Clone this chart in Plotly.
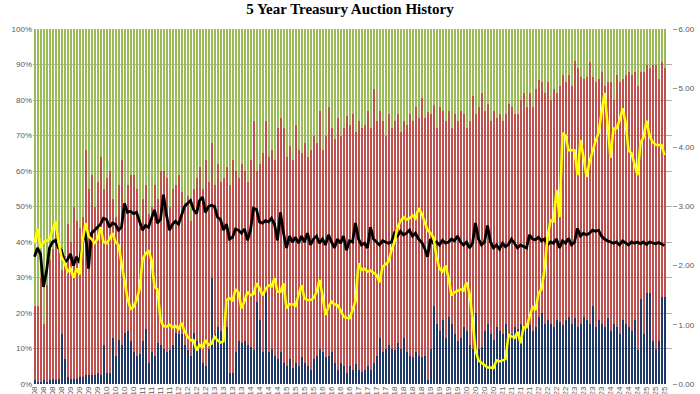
import plotly.graph_objects as go

# ---- data (monthly 5Y auctions, Jan-2008 .. Jul-2025) ----
yield_pct = [
    2.38, 2.62, 2.30, 2.40, 2.42, 2.45, 2.60, 2.75, 2.40, 2.15,
    2.05, 1.90, 1.95, 1.80, 1.95, 1.85, 2.40, 2.72, 2.50, 2.45,
    2.38, 2.45, 2.65, 2.40, 2.38, 2.45, 2.55, 2.40, 2.35, 2.05,
    1.75, 1.45, 1.27, 1.30, 1.42, 1.60, 2.10, 2.20, 2.26, 2.10,
    1.64, 1.60, 1.08, 0.98, 0.97, 1.00, 0.96, 0.98, 0.93, 1.03,
    0.90, 0.80, 0.74, 0.74, 0.57, 0.66, 0.62, 0.74, 0.66, 0.68,
    0.80, 0.74, 0.70, 0.72, 1.42, 1.45, 1.40, 1.60, 1.55, 1.28,
    1.40, 1.56, 1.50, 1.52, 1.70, 1.62, 1.50, 1.60, 1.67, 1.65,
    1.79, 1.56, 1.56, 1.70, 1.28, 1.35, 1.35, 1.32, 1.50, 1.67,
    1.45, 1.42, 1.42, 1.45, 1.55, 1.76, 1.50, 1.17, 1.30, 1.39,
    1.35, 1.33, 1.25, 1.14, 1.12, 1.11, 1.25, 1.40, 2.04, 1.93,
    1.95, 1.90, 1.92, 1.88, 1.84, 1.72, 1.98, 2.02, 2.07, 2.26,
    2.40, 2.65, 2.75, 2.82, 2.78, 2.80, 2.85, 2.80, 2.97, 2.89,
    2.75, 2.60, 2.55, 2.48, 2.15, 1.95, 1.90, 2.00, 1.80, 1.50,
    1.55, 1.58, 1.60, 1.58, 1.72, 1.53, 1.11, 0.57, 0.40, 0.36,
    0.32, 0.28, 0.28, 0.27, 0.40, 0.38, 0.40, 0.42, 0.83, 0.80,
    0.78, 0.88, 0.69, 0.96, 0.96, 1.13, 1.30, 1.25, 1.53, 1.60,
    1.93, 2.48, 2.77, 2.75, 3.28, 2.82, 4.24, 4.20, 3.95, 3.95,
    3.95, 3.53, 4.12, 3.84, 3.50, 3.75, 3.95, 4.10, 4.24, 4.60,
    4.92, 4.40, 3.82, 4.32, 4.32, 4.45, 4.66, 4.43, 3.95, 3.90,
    3.70, 3.53, 4.07, 4.17, 4.45, 4.20, 4.09, 4.05, 4.04, 4.04,
    3.87,
]

bid_to_cover = [
    2.15, 2.30, 2.20, 1.64, 1.90, 2.30, 2.40, 2.43, 2.30, 2.26,
    2.05, 2.10, 2.20, 2.00, 2.15, 2.05, 2.38, 2.60, 1.95, 2.55,
    2.60, 2.65, 2.70, 2.80, 2.78, 2.65, 2.72, 2.70, 2.60, 2.65,
    3.05, 2.90, 2.92, 2.88, 2.90, 2.75, 2.60, 2.68, 2.65, 2.80,
    2.94, 2.72, 2.78, 3.20, 2.85, 2.60, 2.70, 2.75, 2.70, 2.85,
    3.00, 3.05, 3.10, 2.95, 2.88, 3.10, 3.16, 2.90, 3.00, 3.02,
    3.00, 2.82, 2.78, 2.60, 2.70, 2.45, 2.48, 2.62, 2.60, 2.55,
    2.62, 2.43, 2.60, 2.97, 2.95, 2.74, 2.72, 2.76, 2.74, 2.80,
    2.70, 2.43, 2.90, 2.55, 2.30, 2.50, 2.40, 2.48, 2.38, 2.50,
    2.40, 2.55, 2.35, 2.45, 2.50, 2.38, 2.45, 2.35, 2.52, 2.40,
    2.30, 2.45, 2.38, 2.50, 2.26, 2.42, 2.40, 2.72, 2.45, 2.35,
    2.38, 2.30, 2.65, 2.45, 2.40, 2.35, 2.42, 2.40, 2.38, 2.40,
    2.55, 2.50, 2.58, 2.52, 2.55, 2.60, 2.50, 2.55, 2.45, 2.40,
    2.30, 2.15, 2.45, 2.38, 2.40, 2.35, 2.43, 2.38, 2.40, 2.45,
    2.42, 2.50, 2.40, 2.35, 2.40, 2.30, 2.38, 2.72, 2.45, 2.35,
    2.40, 2.68, 2.40, 2.30, 2.35, 2.28, 2.38, 2.32, 2.36, 2.45,
    2.38, 2.30, 2.35, 2.32, 2.30, 2.52, 2.45, 2.44, 2.48, 2.42,
    2.45, 2.35, 2.40, 2.38, 2.45, 2.30, 2.42, 2.38, 2.46, 2.35,
    2.40, 2.63, 2.50, 2.55, 2.52, 2.55, 2.60, 2.58, 2.60, 2.50,
    2.45, 2.42, 2.40, 2.38, 2.40, 2.35, 2.42, 2.38, 2.35, 2.40,
    2.38, 2.40, 2.37, 2.40, 2.36, 2.40, 2.38, 2.37, 2.39, 2.36,
    2.34,
]

# cumulative share taken by directs + indirects (top of red bar), %
direct_plus_indirect = [
    22, 22, 30, 17, 28, 35, 38, 43, 40, 32,
    36, 45, 40, 50, 46, 44, 47, 66, 55, 59,
    50, 57, 64, 55, 58, 60, 52, 47, 56, 63,
    50, 56, 59, 59, 55, 44, 52, 56, 48, 50,
    56, 52, 60, 60, 58, 50, 55, 56, 59, 54,
    51, 53, 46, 55, 58, 61, 55, 63, 57, 68,
    56, 62, 57, 58, 61, 56, 63, 60, 58, 62,
    60, 57, 63, 74, 60, 62, 65, 74, 64, 66,
    63, 72, 75, 72, 64, 67, 63, 73, 66, 65,
    68, 64, 66, 70, 68, 77, 66, 70, 78, 72,
    69, 75, 70, 72, 75.5, 73, 76, 71, 74, 72,
    73, 77, 72, 83, 74, 77, 74, 70, 76, 72,
    74, 76, 71, 74, 73, 76, 74, 78, 75, 80.5,
    75, 76.6, 76, 78.6, 72, 78, 77, 74, 77, 72,
    76, 74, 77, 76, 72, 74, 81, 76, 78, 82,
    77, 79, 74, 77, 75, 76, 74, 76, 79, 78,
    76, 76, 80, 82, 78, 82, 78, 83, 85.6, 85,
    82, 85, 80, 83, 82, 84, 87, 85, 87, 84,
    91, 89, 86.5, 86, 86.5, 90.7, 86.5, 85, 86, 88,
    84, 85, 85, 80, 87, 85, 86, 87, 88, 87,
    88, 84, 88, 88, 90, 89, 90, 90, 86, 90.7,
    89,
]

direct_pct = [
    1, 0.5, 0.5, 1, 0.5, 1, 1.5, 1, 1.5, 14,
    7, 2, 1.5, 1.5, 1.5, 2, 2, 2.5, 2.5, 2.5,
    2.5, 3, 2.5, 11, 3, 3, 13, 8, 12.5, 11,
    14.5, 15, 12, 9, 8, 8.5, 12, 15.5, 6, 9,
    8, 11.5, 11, 10, 9, 9.5, 11, 14.5, 14, 14,
    11, 9.5, 8, 14.5, 12, 10, 6, 5, 10, 30,
    14, 16, 15, 14.5, 16, 3, 3, 9, 12, 11.5,
    12, 11, 10.5, 9.5, 23, 18, 9, 25.6, 9, 10,
    8, 7, 9, 6, 5, 7, 4.5, 6, 5, 7.6,
    6, 5, 4, 7, 8, 10, 9, 7.6, 8, 9,
    6, 4, 6, 5, 3, 5, 4, 5.5, 4, 3.5,
    4, 5, 4, 6, 8, 13, 9, 10, 11, 10,
    9.5, 11.5, 10, 13, 9, 8, 7.5, 9, 8, 7.5,
    8, 1, 10, 22, 17, 15, 18, 13, 19, 17,
    14, 12, 13, 16, 15, 11, 10, 20, 10, 10.5,
    15, 17, 14, 12.5, 16, 15, 14, 17, 13, 14,
    16, 15.5, 17, 15, 16, 16.5, 15, 16, 19, 20,
    17, 18, 17, 16, 18, 17.5, 16.5, 18, 19, 17,
    18.5, 16, 17, 19, 18, 17, 22, 16, 18, 17,
    16, 18.5, 15, 17, 16, 14, 18, 17, 16, 15,
    18, 9.6, 24, 14, 25.6, 25.6, 12, 10, 12, 24.5,
    24.5,
]

month_names = ["Jan", "Feb", "Mar", "Apr", "May", "Jun",
               "Jul", "Aug", "Sep", "Oct", "Nov", "Dec"]
auction_labels = [f"{month_names[i % 12]}-{(8 + i // 12):02d}" for i in range(len(yield_pct))]

right_ticks = [0, 1, 2, 3, 4, 5, 6]
right_tick_text = ["0.00", "1.00", "2.00", "3.00", "4.00", "5.00", "6.00"]

indirect_pct = [t - d for t, d in zip(direct_plus_indirect, direct_pct)]
dealer_pct = [100 - t for t in direct_plus_indirect]
xs = list(range(len(yield_pct)))

fig = go.Figure()
fig.add_bar(x=xs, y=direct_pct, marker_color="#1F3A68", marker_line_width=0, name="Direct")
fig.add_bar(x=xs, y=indirect_pct, marker_color="#C0504D", marker_line_width=0, name="Indirect")
fig.add_bar(x=xs, y=dealer_pct, marker_color="#9BBB59", marker_line_width=0, name="Dealer")
fig.add_scatter(x=xs, y=bid_to_cover, yaxis="y2", mode="lines",
                line=dict(color="#000000", width=2.8), name="Bid to Cover")
fig.add_scatter(x=xs, y=yield_pct, yaxis="y2", mode="lines",
                line=dict(color="#FFFF00", width=2.5), name="High Yield")

tick_idx = xs[::3]
axis_font = dict(size=8, color="#595959", family="Liberation Sans, Arial")
fig.update_layout(
    width=700, height=394,
    margin=dict(l=33, r=28, t=29, b=10),
    paper_bgcolor="white", plot_bgcolor="white",
    barmode="stack", bargap=0.334,
    showlegend=False,
    title=dict(text="<b>5 Year Treasury Auction History</b>", x=0.5, xanchor="center",
               y=0.99, yanchor="top",
               font=dict(family="Liberation Serif, Times New Roman, serif", size=15, color="#000")),
    xaxis=dict(range=[-0.5, len(xs) + 1.5], tickmode="array", tickvals=tick_idx,
               ticktext=[auction_labels[i] for i in tick_idx], tickangle=-90,
               tickfont=axis_font,
               showgrid=False, ticks="", showline=False, zeroline=False, automargin=False),
    yaxis=dict(range=[0, 100], dtick=10, ticksuffix="%", showgrid=True,
               gridcolor="rgba(110,110,110,0.55)", gridwidth=1, zeroline=False,
               tickfont=axis_font, automargin=False),
    yaxis2=dict(range=[0, 6], tickmode="array", tickvals=right_ticks, ticktext=right_tick_text,
                overlaying="y", side="right",
                showgrid=False, zeroline=False, ticks="outside", ticklen=4, tickcolor="#999",
                tickfont=axis_font, automargin=False),
)

fig.write_html("out.html", config={"displayModeBar": False},
               post_script="document.body.style.margin='0';")
